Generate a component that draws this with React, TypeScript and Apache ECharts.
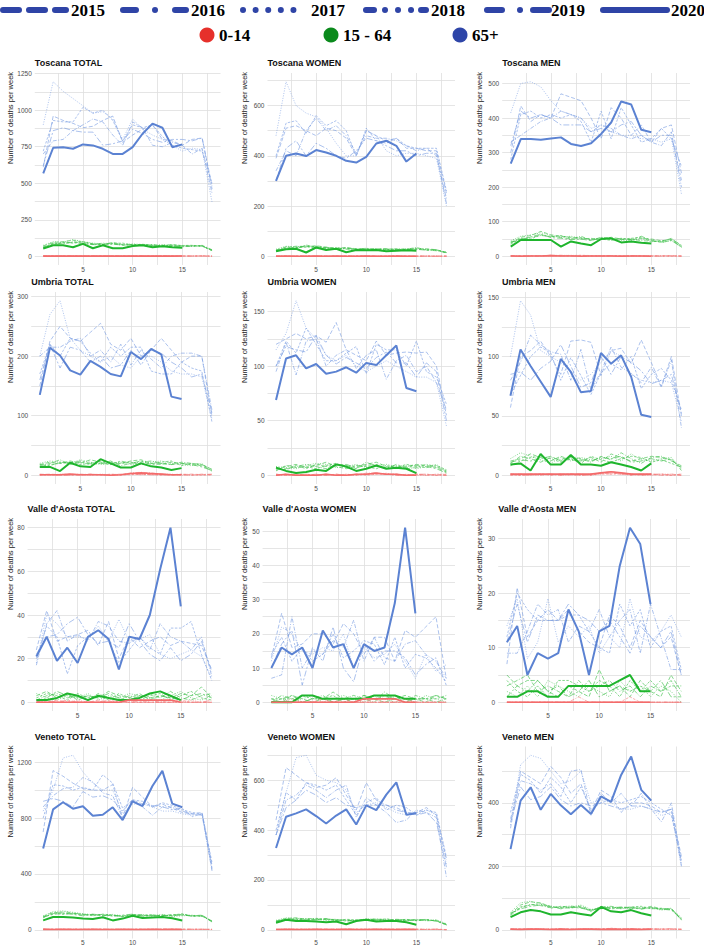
import React, { useEffect, useRef } from 'react';
import * as echarts from 'echarts';

// ---------------- labels ----------------
const YEARS = ['2015', '2016', '2017', '2018', '2019', '2020'];
const AGE_GROUPS = ['0-14', '15 - 64', '65+'];
const PANEL_TITLES = [
  'Toscana TOTAL', 'Toscana WOMEN', 'Toscana MEN',
  'Umbria TOTAL', 'Umbria WOMEN', 'Umbria MEN',
  "Valle d'Aosta TOTAL", "Valle d'Aosta WOMEN", "Valle d'Aosta MEN",
  'Veneto TOTAL', 'Veneto WOMEN', 'Veneto MEN',
];
const Y_TITLE = 'Number of deaths per week';
const Y_TICKS = [
  [0, 250, 500, 750, 1000, 1250], [0, 200, 400, 600], [0, 100, 200, 300, 400, 500],
  [0, 100, 200, 300], [0, 50, 100, 150], [0, 50, 100, 150],
  [0, 20, 40, 60, 80], [0, 10, 20, 30, 40, 50], [0, 10, 20, 30],
  [0, 400, 800, 1200], [0, 200, 400, 600], [0, 200, 400],
];
const X_TICKS = [5, 10, 15];
const X_GRID = [2.5, 5, 7.5, 10, 12.5, 15, 17.5];

// ---------------- data (rows: 2015..2020, values per week) ----------------
// Toscana TOTAL
const TOS_TOT_014 = [
  [2,1,3,2,1,2,1,1,2,1,3,1,2,1,1,2,1,1],
  [1,2,1,3,2,1,2,2,1,2,1,2,1,3,2,1,2,0],
  [3,1,2,1,2,3,1,2,2,1,2,1,2,1,2,2,3,1],
  [1,2,2,1,3,1,2,1,2,2,1,2,3,1,1,2,4,1],
  [2,1,1,2,1,2,3,1,1,2,2,1,1,2,3,1,2,1],
  [1,1,2,1,1,2,1,1,2,1,1,2,1,1,2],
];
const TOS_TOT_1564 = [
  [70,95,100,110,95,85,80,95,80,75,80,70,75,80,70,72,70,40],
  [60,90,85,100,90,80,90,85,75,80,75,80,70,75,70,68,75,45],
  [75,100,95,115,100,90,85,90,80,85,80,75,80,70,72,70,68,42],
  [65,85,95,90,100,85,80,88,90,78,82,78,72,78,74,75,70,38],
  [55,80,90,95,85,80,78,82,78,80,76,72,70,68,65,70,72,40],
  [53,75,75,62,85,55,75,55,55,70,75,62,68,62,58],
];
const TOS_TOT_65 = [
  [610,960,930,910,880,890,930,960,780,830,870,900,800,790,760,800,810,480],
  [700,790,800,860,900,940,920,830,760,920,880,760,750,780,760,700,740,430],
  [900,1195,1130,1080,1030,980,990,940,800,940,870,830,800,760,720,740,730,370],
  [720,930,920,920,1020,980,1000,930,790,900,880,900,820,760,740,730,720,500],
  [620,860,880,860,850,850,760,770,790,870,840,800,780,800,800,790,810,460],
  [568,743,747,736,766,759,736,701,701,747,839,908,880,747,766],
];
// Toscana WOMEN
const TOS_W_014 = [
  [1,0,1,1,0,1,0,1,1,0,1,0,1,1,0,1,0,1],
  [0,1,0,1,1,0,1,0,0,1,0,1,0,0,1,0,1,0],
  [1,1,0,0,1,1,0,1,0,1,1,0,0,1,0,1,1,0],
  [0,0,1,1,0,0,1,1,1,0,0,1,1,0,1,0,0,1],
  [1,0,0,1,1,0,0,0,1,1,0,0,1,0,0,1,0,0],
  [0,1,0,0,1,0,1,0,0,1,0,0,1,0,0],
];
const TOS_W_1564 = [
  [25,35,40,38,42,36,32,35,30,30,28,30,28,27,28,30,26,15],
  [22,38,30,45,35,30,35,28,27,32,26,25,30,28,35,25,22,14],
  [28,40,38,42,38,32,30,30,30,28,30,27,26,30,32,28,24,16],
  [24,30,35,36,40,34,28,34,26,26,30,28,24,28,30,26,25,13],
  [20,32,34,40,32,36,30,32,28,28,25,29,27,26,28,24,26,15],
  [20,28,30,15,35,25,30,16,25,24,25,20,22,24,22],
];
const TOS_W_65 = [
  [390,510,520,500,480,510,500,470,400,500,480,460,470,430,430,420,420,250],
  [340,420,400,500,550,500,520,480,410,480,470,470,460,440,420,430,400,230],
  [480,695,600,570,555,510,450,400,400,500,480,420,400,410,410,400,390,200],
  [400,530,540,490,560,520,540,500,400,510,460,450,470,440,430,430,430,260],
  [300,430,460,400,450,430,400,390,420,470,460,440,420,420,400,410,410,210],
  [300,400,409,399,423,413,400,380,373,396,449,460,440,377,409],
];
// Toscana MEN
const TOS_M_014 = [
  [1,2,1,0,3,2,1,2,1,0,1,1,2,0,1,1,2,1],
  [2,1,0,1,2,3,2,1,0,1,2,0,1,1,0,2,1,0],
  [0,1,2,1,1,2,3,1,1,2,0,1,0,1,2,0,1,1],
  [1,0,1,2,2,1,2,3,2,1,1,2,1,0,1,1,0,1],
  [1,1,2,1,3,1,1,2,1,1,2,1,1,2,1,0,1,0],
  [1,0,1,1,2,1,1,0,1,1,1,0,1,1,0],
];
const TOS_M_1564 = [
  [38,55,60,72,62,58,55,50,52,48,55,50,48,52,50,45,48,28],
  [42,50,55,60,58,55,50,58,46,55,52,48,50,45,44,42,52,30],
  [45,58,62,68,60,55,58,52,50,52,50,45,46,50,48,40,45,26],
  [35,52,50,62,56,60,52,54,48,50,46,50,52,55,42,44,50,32],
  [40,48,56,64,54,52,48,50,45,54,48,52,48,58,46,40,46,27],
  [28,47,47,47,47,28,43,37,32,50,52,40,43,39,37],
];
const TOS_M_65 = [
  [300,435,390,410,400,470,460,450,400,340,430,400,350,380,330,370,380,240],
  [330,350,370,390,400,420,410,400,360,380,370,350,340,350,330,320,360,200],
  [415,500,505,490,450,420,410,400,370,380,360,350,350,340,340,330,340,180],
  [280,410,420,400,410,400,410,390,330,420,340,430,380,330,340,370,340,260],
  [320,420,400,410,400,380,380,380,360,370,360,380,390,350,330,350,350,220],
  [268,339,339,337,341,344,325,319,327,354,387,448,439,366,359],
];
// Umbria TOTAL
const UMB_T_014 = [
  [1,2,1,1,0,2,1,1,2,3,2,1,1,0,1,2,1,1],
  [2,1,0,1,2,1,1,0,1,4,5,4,2,1,1,0,2,1],
  [1,0,2,1,1,0,2,1,1,2,1,2,1,2,0,1,1,0],
  [0,1,1,2,1,1,0,2,1,1,2,1,0,1,2,1,0,1],
  [1,1,0,0,1,2,1,1,0,2,1,1,2,1,1,0,1,2],
  [1,1,1,2,1,1,1,0,1,3,4,3,2,1,1],
];
const UMB_T_1564 = [
  [18,22,20,24,20,26,22,18,20,24,26,20,18,22,20,18,16,8],
  [16,20,26,18,22,18,20,24,16,20,22,24,20,18,22,20,18,10],
  [20,24,22,20,26,22,18,20,22,18,20,22,24,20,18,16,20,6],
  [14,18,20,22,18,20,24,22,20,22,18,20,22,24,16,20,18,10],
  [18,16,22,20,24,20,20,18,24,20,24,18,20,18,20,18,14,8],
  [14,14,7,21,15,14,27,20,13,13,20,15,13,9,12],
];
const UMB_T_65 = [
  [150,225,250,230,225,240,255,220,210,230,200,210,230,210,190,200,200,100],
  [200,215,215,225,230,200,210,190,220,185,210,195,180,200,205,205,200,110],
  [200,270,293,230,210,200,190,200,185,180,200,200,190,175,170,170,165,95],
  [170,220,200,230,225,205,190,215,200,215,215,175,170,170,190,180,175,90],
  [160,220,180,215,210,190,200,180,185,210,185,210,205,190,180,165,170,105],
  [135,214,201,176,169,192,182,170,166,207,195,212,203,132,128],
];
// Umbria WOMEN
const UMB_W_014 = [
  [0,1,0,1,0,0,1,0,1,1,2,1,0,0,1,0,1,0],
  [1,0,1,0,0,1,0,1,0,2,2,1,1,0,0,1,0,0],
  [0,0,1,0,1,0,0,1,0,1,1,2,0,1,0,0,1,1],
  [1,0,0,1,0,1,0,0,1,0,1,1,1,0,1,0,0,1],
  [0,1,0,0,1,0,1,0,0,1,2,1,0,0,1,1,0,0],
  [0,1,0,0,0,1,0,0,1,1,2,1,1,0,0],
];
const UMB_W_1564 = [
  [6,8,10,7,9,12,8,6,8,10,12,8,6,8,10,9,7,3],
  [5,6,8,10,8,6,10,9,6,12,8,7,9,6,7,10,8,4],
  [8,7,6,9,11,10,7,8,10,7,9,10,8,9,6,8,10,3],
  [4,9,7,8,6,9,11,7,9,8,6,9,7,10,8,7,9,5],
  [7,5,9,6,10,8,9,10,7,9,10,6,10,7,9,8,6,2],
  [7,4,2,3,5,4,10,8,4,6,9,6,7,6,2],
];
const UMB_W_65 = [
  [120,125,130,125,128,122,140,115,110,105,123,110,112,113,112,113,100,55],
  [95,122,92,123,125,100,110,115,98,110,115,88,105,110,95,100,85,60],
  [115,130,160,135,125,110,105,110,100,95,100,105,100,95,90,90,85,45],
  [100,123,112,135,120,105,105,112,118,93,120,115,115,100,123,95,90,65],
  [100,118,115,113,128,110,102,108,103,98,108,113,103,103,90,103,95,50],
  [69,107,110,98,102,93,95,99,94,103,101,110,119,80,77],
];
// Umbria MEN
const UMB_M_014 = [
  [1,0,1,0,1,0,1,1,0,2,3,2,1,0,1,0,1,0],
  [0,1,0,1,0,1,0,0,1,2,2,1,0,1,0,1,0,1],
  [1,1,0,0,1,0,0,1,0,1,2,1,1,0,0,1,1,0],
  [0,0,1,1,0,1,1,0,1,1,1,2,0,1,1,0,0,1],
  [1,0,0,1,1,0,1,0,0,2,1,1,1,0,1,1,0,0],
  [1,1,1,1,1,1,1,1,1,2,3,2,1,1,1],
];
const UMB_M_1564 = [
  [12,14,18,15,12,16,13,12,15,11,18,15,12,14,16,15,13,6],
  [10,16,14,11,15,13,16,14,11,16,13,19,14,10,15,16,12,8],
  [14,19,16,13,10,15,12,15,13,14,16,12,18,13,12,14,15,5],
  [8,12,15,16,14,11,14,10,16,13,11,14,16,15,11,13,10,7],
  [11,13,12,14,16,12,15,13,12,15,14,16,11,12,14,12,14,4],
  [9,10,4,18,9,9,17,9,9,8,11,9,7,4,10],
];
const UMB_M_65 = [
  [57,100,105,113,100,85,113,114,112,84,105,107,94,114,95,75,100,50],
  [80,95,118,110,104,102,80,106,72,87,108,91,86,78,91,74,97,40],
  [100,147,135,105,100,95,88,80,85,95,105,100,85,80,78,80,78,45],
  [68,84,100,108,103,80,99,84,68,86,94,89,100,73,85,90,80,55],
  [85,87,80,90,96,110,92,74,78,100,85,100,95,88,77,80,85,52],
  [67,106,92,79,66,98,87,70,71,103,94,101,83,51,49],
];
// Valle d'Aosta TOTAL
const VDA_T_014 = [
  [0,0,1,0,0,0,1,0,0,0,0,1,0,0,0,0,0,0],
  [0,1,0,0,0,0,0,0,1,0,0,0,0,1,0,0,0,0],
  [0,0,0,0,1,0,0,0,0,0,1,0,0,0,0,1,0,0],
  [1,0,0,0,0,0,0,1,0,0,0,0,0,0,1,0,0,0],
  [0,0,0,1,0,0,0,0,0,1,0,0,0,0,0,0,0,1],
  [0,0,0,0,0,0,0,0,0,1,1,1,1,1,0],
];
const VDA_T_1564 = [
  [3,5,2,4,1,3,2,5,3,2,4,1,3,2,4,3,7,2],
  [1,3,4,2,3,1,4,2,1,3,2,4,2,5,2,1,3,4],
  [4,2,1,3,2,4,1,3,2,4,3,2,1,3,5,2,1,3],
  [2,4,3,1,4,2,3,1,4,2,1,3,4,1,3,5,2,1],
  [0,2,5,3,2,3,2,4,2,1,3,2,3,2,1,3,4,2],
  [1,1,2,4,3,1,3,2,1,1,2,4,5,3,1],
];
const VDA_T_65 = [
  [24,42,28,30,31,33,26,37,20,30,25,28,30,26,28,27,26,15],
  [17,36,42,28,31,28,37,35,28,27,30,24,36,30,28,24,30,12],
  [18,40,36,30,30,29,35,28,38,28,29,31,22,20,22,24,21,11],
  [20,35,30,13,26,30,33,28,18,24,30,25,22,34,34,37,22,10],
  [22,30,31,36,39,31,27,28,25,36,28,22,19,25,19,22,28,14],
  [21,30,19,25,18,30,33,29,15,30,29,40,61,80,44],
];
// Valle d'Aosta WOMEN
const VDA_W_014 = [
  [0,0,0,0,0,1,0,0,0,0,0,0,0,0,0,0,0,0],
  [0,0,0,0,0,0,0,0,0,0,1,0,0,0,0,0,0,0],
  [0,0,1,0,0,0,0,0,0,0,0,0,0,0,0,0,0,0],
  [0,0,0,0,0,0,0,1,0,0,0,0,0,0,0,0,0,0],
  [0,0,0,0,0,0,0,0,0,0,0,0,0,1,0,0,0,0],
  [0,0,0,0,0,0,0,0,0,1,1,1,1,0,0],
];
const VDA_W_1564 = [
  [1,0,2,1,0,1,3,1,0,2,1,0,1,2,1,0,2,1],
  [0,2,1,0,1,2,0,1,2,1,0,3,1,0,2,1,0,1],
  [2,1,0,1,2,0,1,2,1,0,2,1,0,1,0,2,1,0],
  [1,1,1,2,1,1,2,0,1,1,1,2,1,1,1,1,1,2],
  [0,1,2,0,1,1,0,1,1,2,1,1,2,0,1,1,2,1],
  [0,0,0,2,2,1,1,1,1,1,2,2,2,1,1],
];
const VDA_W_65 = [
  [13,26,16,17,20,20,17,23,20,14,19,19,12,21,19,22,25,7],
  [7,8,25,10,15,14,18,16,24,12,19,13,12,17,18,14,12,7],
  [12,22,20,15,14,16,15,20,10,16,13,14,17,12,7,14,9,11],
  [14,19,12,16,12,14,20,13,15,18,17,11,19,10,14,13,10,6],
  [10,17,21,5,16,12,22,10,6,17,12,15,15,13,8,11,13,5],
  [10,16,14,16,10,21,16,17,10,17,15,16,29,51,26],
];
// Valle d'Aosta MEN
const VDA_M_014 = [
  [0,0,0,0,0,0,0,0,0,0,0,0,0,0,0,0,0,0],
  [0,0,0,0,0,0,0,1,0,0,0,0,0,0,0,0,0,0],
  [0,0,0,0,0,0,0,0,0,0,0,0,0,0,0,0,0,0],
  [0,0,0,0,0,0,0,0,0,0,0,0,1,0,0,0,0,0],
  [0,0,0,0,0,0,0,0,0,0,0,0,0,0,0,0,0,0],
  [0,0,0,0,0,0,0,0,0,0,0,0,0,0,0],
];
const VDA_M_1564 = [
  [5,3,4,4,2,1,3,2,1,6,2,3,1,4,2,1,5,2],
  [3,4,5,2,3,2,1,4,2,3,4,2,3,1,3,2,4,1],
  [2,1,3,1,4,3,2,1,3,2,1,4,2,3,1,3,2,0],
  [4,2,1,3,1,4,4,3,2,4,3,1,4,2,4,2,3,3],
  [1,3,2,4,2,3,1,2,4,1,2,3,2,3,2,4,1,1],
  [1,1,2,2,1,1,3,3,3,3,3,4,5,2,2],
];
const VDA_M_65 = [
  [7,21,12,15,17,15,17,13,11,10,16,14,10,15,12,10,12,5],
  [9,9,13,18,16,17,11,14,13,17,12,15,17,9,18,12,6,6],
  [14,19,8,11,19,11,14,12,14,9,12,10,19,12,11,13,16,12],
  [12,20,17,15,15,15,16,16,13,10,9,18,14,17,10,13,14,6],
  [11,18,11,16,15,15,18,16,15,13,15,12,9,14,12,10,13,5],
  [11,14,5,9,8,9,17,13,5,13,14,25,32,29,18],
];
// Veneto TOTAL
const VEN_T_014 = [
  [3,4,2,5,3,2,4,3,2,3,4,2,3,5,2,3,4,2],
  [4,2,3,3,5,4,2,3,4,2,3,4,6,3,2,4,3,3],
  [2,3,5,4,2,3,3,4,3,4,2,3,2,4,3,2,5,1],
  [5,3,4,2,3,5,3,2,4,3,5,3,4,2,4,3,2,4],
  [3,5,3,4,4,2,5,4,2,5,3,4,3,3,5,4,3,2],
  [3,2,3,2,2,3,2,2,3,2,2,3,2,3,2],
];
const VEN_T_1564 = [
  [95,125,120,115,105,110,100,105,95,110,100,105,100,110,105,100,105,60],
  [90,115,130,120,110,105,110,100,98,105,110,95,105,100,110,100,100,55],
  [100,130,135,125,115,108,105,110,100,108,102,100,110,95,100,105,95,65],
  [85,120,110,118,112,100,112,105,92,100,105,108,98,105,115,98,102,58],
  [92,110,118,110,100,112,104,98,105,112,96,102,104,100,108,96,98,62],
  [67,91,91,88,80,77,90,67,80,100,85,88,91,82,67],
];
const VEN_T_65 = [
  [700,1140,1100,1050,1010,1000,1000,1040,800,1020,950,880,900,870,840,830,840,460],
  [880,960,1010,1020,1090,1060,980,960,800,930,880,820,880,880,850,830,820,420],
  [850,1000,1230,1250,1130,1050,1000,1000,830,900,900,880,850,850,830,820,830,430],
  [800,1040,1030,1000,1020,1000,1110,1050,870,930,920,880,910,890,860,840,830,480],
  [920,940,920,880,990,950,960,930,850,930,900,890,880,860,870,810,830,440],
  [582,862,913,867,884,817,824,877,786,920,886,1030,1138,903,877],
];
// Veneto WOMEN
const VEN_W_014 = [
  [1,2,1,2,1,3,2,1,2,1,2,1,3,2,1,2,1,1],
  [2,1,2,1,2,1,1,3,1,2,1,2,1,1,2,1,2,0],
  [1,3,2,2,1,2,3,1,2,2,3,1,2,2,1,3,1,1],
  [2,1,1,3,2,1,2,2,1,3,1,2,2,1,3,1,2,1],
  [1,2,3,1,2,2,1,2,3,1,2,3,1,2,2,1,3,0],
  [1,2,1,1,2,1,1,2,1,1,2,1,1,2,1],
];
const VEN_W_1564 = [
  [35,45,48,42,40,45,38,40,35,42,40,38,42,40,38,40,35,22],
  [32,42,40,45,44,40,42,36,38,40,44,40,36,38,42,36,38,20],
  [38,48,46,44,42,38,40,38,36,44,42,42,40,36,40,38,40,24],
  [30,40,44,40,46,42,36,42,40,38,38,44,38,42,36,40,36,18],
  [34,44,42,38,40,44,40,35,38,42,40,36,40,38,38,42,34,21],
  [28,40,35,35,33,30,33,22,35,40,33,35,35,30,20],
];
const VEN_W_65 = [
  [440,650,620,590,570,580,610,540,480,590,520,500,490,470,470,490,460,280],
  [380,520,540,580,560,530,560,580,450,530,500,470,430,440,480,470,450,210],
  [380,550,690,700,620,600,590,560,470,500,510,490,470,460,470,480,460,260],
  [400,550,520,590,580,560,580,520,460,510,530,480,500,490,460,480,470,290],
  [380,490,520,560,540,510,530,500,490,500,500,500,480,470,460,470,430,250],
  [328,453,467,483,456,426,458,483,422,499,480,542,591,461,467],
];
// Veneto MEN
const VEN_M_014 = [
  [2,1,3,2,1,2,3,1,2,2,4,2,3,2,1,2,3,1],
  [1,3,2,1,2,3,1,2,3,1,3,4,2,1,3,2,2,1],
  [3,2,1,3,2,1,2,3,1,3,2,2,1,3,2,3,1,2],
  [2,2,3,1,3,2,2,1,2,2,5,3,2,2,3,1,2,1],
  [1,3,2,2,1,3,1,2,2,4,2,1,3,2,2,2,3,2],
  [2,1,2,2,1,2,1,2,2,1,2,1,2,1,2],
];
const VEN_M_1564 = [
  [50,78,88,85,72,70,68,75,62,70,68,72,70,68,74,66,65,35],
  [45,70,80,76,70,72,75,70,60,72,74,66,72,65,70,64,68,30],
  [55,85,90,80,75,68,72,78,64,68,70,70,66,70,68,62,66,38],
  [48,72,78,82,68,74,70,72,58,74,66,68,72,74,66,68,64,32],
  [52,66,74,78,74,66,72,68,62,66,72,70,68,66,70,65,62,34],
  [40,55,62,58,48,48,55,50,45,72,58,55,62,52,45],
];
const VEN_M_65 = [
  [320,500,480,460,515,480,430,460,370,440,420,370,400,400,390,370,380,230],
  [350,470,460,440,460,420,500,505,360,430,400,430,390,430,380,340,400,210],
  [330,520,550,540,500,460,470,500,400,410,400,380,380,390,380,360,370,200],
  [370,490,470,430,480,450,400,450,380,400,410,400,410,420,400,380,360,220],
  [340,450,410,420,450,410,390,400,390,400,390,380,390,390,380,370,380,200],
  [254,407,449,378,428,392,364,393,365,420,403,488,546,441,407],
];

const PANEL_DATA = [
  [TOS_TOT_014, TOS_TOT_1564, TOS_TOT_65], [TOS_W_014, TOS_W_1564, TOS_W_65], [TOS_M_014, TOS_M_1564, TOS_M_65],
  [UMB_T_014, UMB_T_1564, UMB_T_65], [UMB_W_014, UMB_W_1564, UMB_W_65], [UMB_M_014, UMB_M_1564, UMB_M_65],
  [VDA_T_014, VDA_T_1564, VDA_T_65], [VDA_W_014, VDA_W_1564, VDA_W_65], [VDA_M_014, VDA_M_1564, VDA_M_65],
  [VEN_T_014, VEN_T_1564, VEN_T_65], [VEN_W_014, VEN_W_1564, VEN_W_65], [VEN_M_014, VEN_M_1564, VEN_M_65],
];

// ---------------- layout & styles ----------------
const COL_RIGHT = [220.5, 455, 690];
const PANEL_X = [0, 234.67, 469.33];
const ROW_TOP = [73, 292, 519, 746.5];
const PLOT_H = 192;
const PLOT_LEFT = [
  [34.8, 267.5, 502.2],
  [31.2, 267.5, 501.9],
  [27.6, 262.6, 498.2],
  [34.7, 267.5, 502],
];
const COLOR_2020 = ['#f36b6b', '#1fb52d', '#5b82d2'];
const COLOR_OLD = ['#f48080', '#3cbf4a', '#7b9de2'];
const YEAR_DASH: any[] = [[4, 2], [4, 1.5, 1, 1.5], [1, 1.5], [2.5, 1.5], [6, 2, 2, 2], 'solid'];
const LEGEND_BLUE = '#2f44a6';
const LEGEND_DOT = ['#e6302b', '#0b8a1c', '#2e45a8'];
const SANS = 'Liberation Sans, Arial, sans-serif';
const SERIF = 'Liberation Serif, Times New Roman, serif';

function buildOption() {
  const grids: any[] = [];
  const xAxes: any[] = [];
  const yAxes: any[] = [];
  const series: any[] = [];
  const graphics: any[] = [];

  PANEL_DATA.forEach((groups, i) => {
    const r = Math.floor(i / 3);
    const c = i % 3;
    const left = PLOT_LEFT[r][c];
    const top = ROW_TOP[r];
    const width = COL_RIGHT[c] - left;
    grids.push({ left, top, width, height: PLOT_H, containLabel: false, outerBoundsMode: 'none' });

    let M = 0;
    groups.forEach((g) => g.forEach((yr) => yr.forEach((v) => { if (v > M) M = v; })));
    const yMin = -0.05 * M;
    const yMax = 1.05 * M;
    const ticks = Y_TICKS[i];
    const step = ticks[1] - ticks[0];
    const gridVals: number[] = [];
    for (let k = 0; k * step / 2 <= yMax; k++) gridVals.push(k * step / 2);

    xAxes.push({
      type: 'value', gridIndex: i, min: 0.15, max: 18.85,
      axisLine: { show: false }, axisTick: { show: false, customValues: X_GRID },
      axisLabel: { customValues: X_TICKS, fontSize: 6.5, color: '#4d4d4d', margin: 0.5, fontFamily: SANS,
        formatter: (v: number) => String(v) },
      splitLine: { show: true, lineStyle: { color: '#dedede', width: 0.8 } },
    });
    yAxes.push({
      type: 'value', gridIndex: i, min: yMin, max: yMax,
      axisLine: { show: false }, axisTick: { show: false, customValues: gridVals },
      axisLabel: { customValues: ticks, fontSize: 6.5, color: '#4d4d4d', margin: 3, fontFamily: SANS,
        formatter: (v: number) => String(v) },
      splitLine: { show: true, lineStyle: { color: '#dedede', width: 0.8 } },
    });

    [2, 1, 0].forEach((gi) => {
      groups[gi].forEach((vals, yi) => {
        const is2020 = yi === 5;
        series.push({
          type: 'line',
          name: AGE_GROUPS[gi] + ' ' + YEARS[yi],
          xAxisIndex: i, yAxisIndex: i,
          data: vals.map((v, k) => [k + 1, v]),
          symbol: 'none', showSymbol: false, silent: true,
          z: is2020 ? 4 : 3,
          lineStyle: {
            color: is2020 ? COLOR_2020[gi] : COLOR_OLD[gi],
            width: is2020 ? (gi === 0 ? 1.6 : 2) : 0.7,
            type: YEAR_DASH[yi],
            opacity: is2020 ? 1 : 0.9,
          },
        });
      });
    });

    graphics.push({
      type: 'text', x: left, y: top - 10,
      style: { text: PANEL_TITLES[i], fontSize: 9, fontWeight: 'bold', fontFamily: SANS, fill: '#111',
        align: 'left', verticalAlign: 'middle', textAlign: 'left', textVerticalAlign: 'middle' },
    });
    graphics.push({
      type: 'text', x: PANEL_X[c] + 10, y: top + 45, rotation: Math.PI / 2,
      style: { text: Y_TITLE, fontSize: 7.5, fontFamily: SANS, fill: '#222',
        align: 'center', verticalAlign: 'middle', textAlign: 'center', textVerticalAlign: 'middle' },
    });
  });

  // Legend row 1: years
  const LEG_X = [0, 120, 240, 360, 480, 600];
  const legendDash: any[] = [
    { x1: 3, x2: 66, dash: [16, 10] },
    { x1: 3, x2: 66, dash: [13, 19, 0.01, 20] },
    { x1: 3, x2: 66, dash: [0.01, 12.6] },
    { x1: 6, x2: 66, dash: [8, 11, 0.01, 13, 0.01, 13, 0.01, 10] },
    { x1: 7, x2: 69, dash: [15, 18, 0.01, 13, 16] },
    { x1: 3, x2: 67, dash: null },
  ];
  YEARS.forEach((yr, k) => {
    const x0 = LEG_X[k];
    const d = legendDash[k];
    graphics.push({
      type: 'line',
      shape: { x1: x0 + d.x1, y1: 10, x2: x0 + d.x2, y2: 10 },
      style: { stroke: LEGEND_BLUE, lineWidth: 6, lineCap: 'round', lineDash: d.dash || undefined },
    });
    graphics.push({
      type: 'text', x: x0 + 71, y: 10,
      style: { text: yr, fontSize: 17, fontWeight: 'bold', fontFamily: SERIF, fill: '#000',
        align: 'left', verticalAlign: 'middle', textAlign: 'left', textVerticalAlign: 'middle' },
    });
  });
  // Legend row 2: age groups
  const DOT_X = [207, 331, 460];
  AGE_GROUPS.forEach((ag, k) => {
    graphics.push({ type: 'circle', shape: { cx: DOT_X[k], cy: 35, r: 7.5 }, style: { fill: LEGEND_DOT[k] } });
    graphics.push({
      type: 'text', x: DOT_X[k] + 12, y: 35,
      style: { text: ag, fontSize: 17, fontWeight: 'bold', fontFamily: SERIF, fill: '#000',
        align: 'left', verticalAlign: 'middle', textAlign: 'left', textVerticalAlign: 'middle' },
    });
  });

  return {
    animation: false,
    backgroundColor: '#ffffff',
    textStyle: { fontFamily: SANS },
    grid: grids,
    xAxis: xAxes,
    yAxis: yAxes,
    series,
    graphic: graphics,
  };
}

export default function App() {
  const ref = useRef<HTMLDivElement>(null);
  useEffect(() => {
    if (!ref.current) return;
    const chart = echarts.init(ref.current, null, { renderer: 'svg' });
    chart.setOption(buildOption());
    return () => chart.dispose();
  }, []);
  return <div ref={ref} style={{ position: 'absolute', left: 0, top: 0, width: 704, height: 946 }} />;
}
